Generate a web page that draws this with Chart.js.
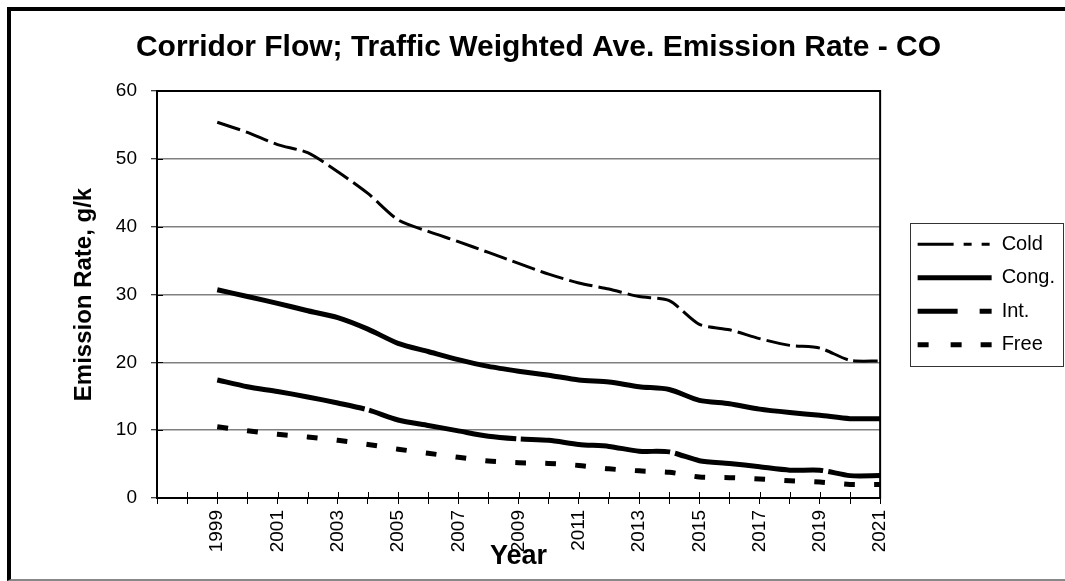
<!DOCTYPE html>
<html><head><meta charset="utf-8">
<script src="https://cdn.jsdelivr.net/npm/chart.js@4/dist/chart.umd.min.js"></script>
<style>
html,body{margin:0;padding:0;background:#fff;overflow:hidden;}
#wrap{position:relative;width:1065px;height:581px;overflow:hidden;}
#frame{position:absolute;left:7px;top:7px;width:1100px;height:568px;border-top:4px solid #000;border-left:4px solid #000;border-bottom:2px solid #888;}
canvas{position:absolute;left:0;top:0;}
</style></head><body>
<div id="wrap"><div id="frame"></div><canvas id="c" width="1065" height="581"></canvas></div>
<script>
// ---- data ----
const years = [1999,2000,2001,2002,2003,2004,2005,2006,2007,2008,2009,2010,2011,2012,2013,2014,2015,2016,2017,2018,2019,2020,2021];
const tickLabels = [1999,2001,2003,2005,2007,2009,2011,2013,2015,2017,2019,2021];
const axisFirstYear = 1997;
const axisLastYear = 2021;
const seriesNames = ['Cold','Cong.','Int.','Free'];
const cold = [55.4,53.9,52.1,50.9,48.1,44.9,41.0,39.3,37.8,36.2,34.6,33.0,31.7,30.8,29.7,29.1,25.6,24.8,23.5,22.5,22.1,20.3,20.2];
const cong = [30.7,29.7,28.7,27.6,26.6,24.9,22.8,21.6,20.4,19.4,18.7,18.1,17.4,17.1,16.4,16.0,14.4,13.9,13.1,12.6,12.2,11.7,11.7];
const intr = [17.4,16.4,15.7,14.9,14.0,13.0,11.5,10.7,9.9,9.1,8.7,8.5,7.9,7.6,6.9,6.8,5.5,5.1,4.6,4.1,4.1,3.3,3.3];
const free = [10.5,9.9,9.4,9.0,8.5,7.9,7.2,6.6,6.0,5.45,5.2,5.1,4.8,4.3,4.0,3.8,3.1,3.0,2.8,2.55,2.35,2.0,2.0];
const yTicks = {min:0, max:60, step:10};

// ---- styles ----
const lineWidths = [3,5,5,5];
const lineDashes = [[24,6],[],[150,5],[11,19]];
const legendDashes = [[36,10,8,10,8,40],[],[40,22,13,40],[11,22,11,19,12,40]];

const pts = arr => years.map((yr,i)=>({x:yr, y:arr[i]}));
const seriesValues = [cold, cong, intr, free];

Chart.defaults.font.family = '"Liberation Sans", Arial, sans-serif';
Chart.defaults.color = '#000';

const decor = {
  id:'decor',
  beforeDatasetsDraw(chart){
    const {ctx, chartArea:a, scales:{x,y}} = chart;
    ctx.save();
    ctx.strokeStyle='#000'; ctx.lineWidth=1;
    ctx.beginPath();
    x.ticks.forEach((t,i)=>{ const px=Math.round(x.getPixelForTick(i))+0.5; ctx.moveTo(px,a.bottom); ctx.lineTo(px,a.bottom-6); });
    y.ticks.forEach((t,i)=>{ const py=Math.round(y.getPixelForTick(i))+0.5; ctx.moveTo(a.left,py); ctx.lineTo(a.left+6,py); });
    ctx.stroke();
    ctx.lineWidth=2;
    ctx.strokeRect(a.left,a.top,a.right-a.left,a.bottom-a.top);
    ctx.restore();
  },
  afterDraw(chart){
    const lg = chart.legend; const hb = lg.legendHitBoxes;
    if(!hb || !hb.length) return;
    const {ctx} = chart;
    const top = hb[0].top - 11, bottom = hb[hb.length-1].top + hb[hb.length-1].height + 11;
    ctx.save(); ctx.strokeStyle='#333'; ctx.lineWidth=1;
    ctx.strokeRect(Math.round(lg.left+6)+0.5, Math.round(top)+0.5, 1063-Math.round(lg.left+6), Math.round(bottom-top));
    ctx.restore();
  }
};

new Chart(document.getElementById('c'), {
  type:'line',
  data:{
    datasets: seriesNames.map((n,i)=>({
      label:n, data:pts(seriesValues[i]), borderColor:'#000', backgroundColor:'#000',
      borderWidth:lineWidths[i], borderDash:lineDashes[i], borderCapStyle:'butt',
      pointRadius:0, tension:0.25, fill:false, yAxisID:'y'
    }))
  },
  options:{
    responsive:false, animation:false, devicePixelRatio:1, events:[],
    layout:{padding:{left:12, top:10, right:0, bottom:3}},
    plugins:{
      title:{display:true, text:'Corridor Flow; Traffic Weighted Ave. Emission Rate - CO', color:'#000',
        font:{size:30, weight:'bold'}, padding:{top:20, bottom:25}},
      legend:{position:'right', fullSize:false, align:'center',
        labels:{usePointStyle:true, pointStyle:'line', pointStyleWidth:74, padding:13.5, color:'#000',
          font:{size:20},
          generateLabels(chart){
            return chart.data.datasets.map((ds,i)=>({
              text:ds.label, fillStyle:'#000', strokeStyle:'#000', fontColor:'#000',
              lineWidth:lineWidths[i], lineDash:legendDashes[i], lineCap:'butt', lineJoin:'miter',
              pointStyle:'line', hidden:false, datasetIndex:i, rotation:0
            }));
          }}},
      tooltip:{enabled:false}
    },
    scales:{
      x:{type:'linear', min:axisFirstYear, max:axisLastYear, offset:false,
        afterFit(s){ s.height = 80; },
        grid:{drawOnChartArea:false, tickLength:6, tickColor:'#000', tickWidth:1},
        border:{color:'#000', width:2},
        ticks:{stepSize:1, autoSkip:false, maxRotation:90, minRotation:90, padding:6, color:'#000', font:{size:19},
          callback:v => tickLabels.includes(v) ? String(v) : ''},
        title:{display:true, text:'Year', color:'#000', font:{size:27, weight:'bold'}, padding:{top:0, bottom:4.8}}
      },
      y:{type:'linear', position:'left', min:yTicks.min, max:yTicks.max,
        afterFit(s){ s.width = 145; },
        grid:{color:'#808080', lineWidth:1.5, tickLength:6, tickColor:'#000', tickWidth:1},
        border:{color:'#000', width:2},
        ticks:{stepSize:yTicks.step, padding:14, color:'#000', font:{size:19}},
        title:{display:true, text:'Emission Rate, g/k', color:'#000', font:{size:24, weight:'bold'}, padding:{top:58, bottom:0}}
      },
      gap:{type:'linear', position:'right', display:true,
        afterFit(s){ s.width = 24; },
        grid:{display:false, drawTicks:false}, border:{display:false}, ticks:{display:false}}
    }
  },
  plugins:[decor]
});
</script>
</body></html>
